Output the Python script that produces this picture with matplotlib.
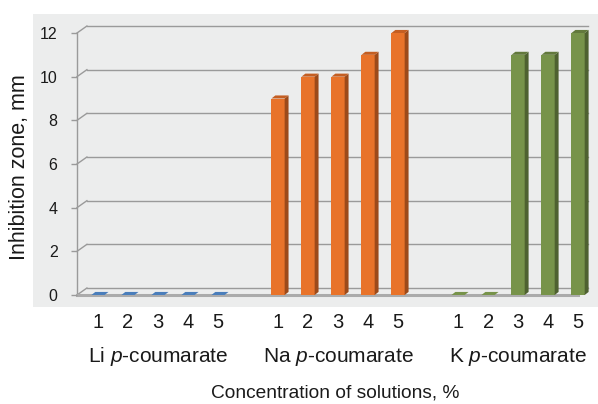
import matplotlib
matplotlib.use("Agg")
import matplotlib.pyplot as plt
from matplotlib.patches import Polygon, Rectangle

plt.rcParams['font.family'] = ['Liberation Sans', 'DejaVu Sans']
plt.rcParams['mathtext.fontset'] = 'custom'
plt.rcParams['mathtext.it'] = 'Liberation Sans:italic'
plt.rcParams['mathtext.rm'] = 'Liberation Sans'

# inhibition zone (mm) for each salt at concentrations 1..5 %
concentrations = ['1', '2', '3', '4', '5']
salts = ['Li $\\it{p}$-coumarate', 'Na $\\it{p}$-coumarate', 'K $\\it{p}$-coumarate']
li_values = [0, 0, 0, 0, 0]
na_values = [9, 10, 10, 11, 12]
k_values = [0, 0, 11, 11, 12]

series = [li_values, na_values, k_values]
# front / side / top face colours per salt
faces = [
    ('#4A7EBB', '#2F5687', '#3D6CA6'),
    ('#E8732A', '#9C4A1A', '#C45E22'),
    ('#77934A', '#4E6130', '#62793C'),
]

fig = plt.figure(figsize=(5.98, 4.04), dpi=100)
fig.patches.append(Rectangle((33 / 598, 1 - 307 / 404), 565 / 598, 293 / 404,
                             transform=fig.transFigure, facecolor='#ECEDED',
                             edgecolor='none', zorder=0))

ax = fig.add_axes([77 / 598, 109 / 404, 505 / 598, 262 / 404], zorder=2)
ax.set_facecolor('none')
xl, xr = -0.7, 16.0
ax.set_xlim(xl, 16.13)
ax.set_ylim(0, 12)
for s in ax.spines.values():
    s.set_visible(False)

# depth of the back wall and of each bar, in data units
wall_dx, wall_dy = 0.33, 0.32
bar_dx, bar_dy = 0.13, 0.14
grid_col = '#9A9A9A'

for v in range(0, 13, 2):
    ax.plot([xl + wall_dx, xr + wall_dx], [v + wall_dy, v + wall_dy],
            color=grid_col, lw=1, clip_on=False, zorder=1)
    ax.plot([xl, xl + wall_dx], [v, v + wall_dy], color=grid_col, lw=1,
            clip_on=False, zorder=1)
ax.plot([xl, xl], [0, 12], color=grid_col, lw=1, clip_on=False, zorder=1)
ax.plot([xl, xr], [0, 0], color='#ABABAB', lw=2.2, clip_on=False, zorder=1)
ax.plot([xr, xr + wall_dx], [0, wall_dy], color='#ABABAB', lw=1,
        clip_on=False, zorder=1)

width = 0.44
xticks = []
group_y = -62 / (262 / 12)
for g, vals in enumerate(series):
    front, side, top = faces[g]
    xs = [g * 6 + i for i in range(len(vals))]
    xticks += xs
    bars = ax.bar(xs, vals, width=width, color=front, edgecolor='none', zorder=3)
    for b in bars:
        b.set_clip_on(False)
    for x, v in zip(xs, vals):
        x0, x1 = x - width / 2, x + width / 2
        if v > 0:
            ax.add_patch(Polygon([(x1, 0), (x1, v), (x1 + bar_dx, v + bar_dy),
                                  (x1 + bar_dx, bar_dy)], closed=True,
                                 facecolor=side, edgecolor='none', zorder=3,
                                 clip_on=False))
        ax.add_patch(Polygon([(x0, v), (x1, v), (x1 + bar_dx, v + bar_dy),
                              (x0 + bar_dx, v + bar_dy)], closed=True,
                             facecolor=top if v > 0 else front,
                             edgecolor='none', zorder=3, clip_on=False))
    ax.text(g * 6 + 2, group_y, salts[g], ha='center', va='center',
            fontsize=15, color='#1A1A1A', clip_on=False)

ax.set_xticks(xticks)
ax.set_xticklabels(concentrations * 3)
ax.tick_params(axis='x', length=0, pad=13, labelsize=14.5, labelcolor='#1A1A1A')
ax.set_yticks(range(0, 13, 2))
ax.tick_params(axis='y', length=4, width=1, color=grid_col, pad=10,
               labelsize=11.5, labelcolor='#1A1A1A')

fig.text(20 / 598, 1 - 167 / 404, 'Inhibition zone, mm', rotation=90,
         ha='center', va='center', fontsize=15.5, color='#1A1A1A')
fig.text(335 / 598, 1 - 393 / 404, 'Concentration of solutions, %',
         ha='center', va='center', fontsize=13.8, color='#1A1A1A')

fig.savefig('out.png', dpi=100)
